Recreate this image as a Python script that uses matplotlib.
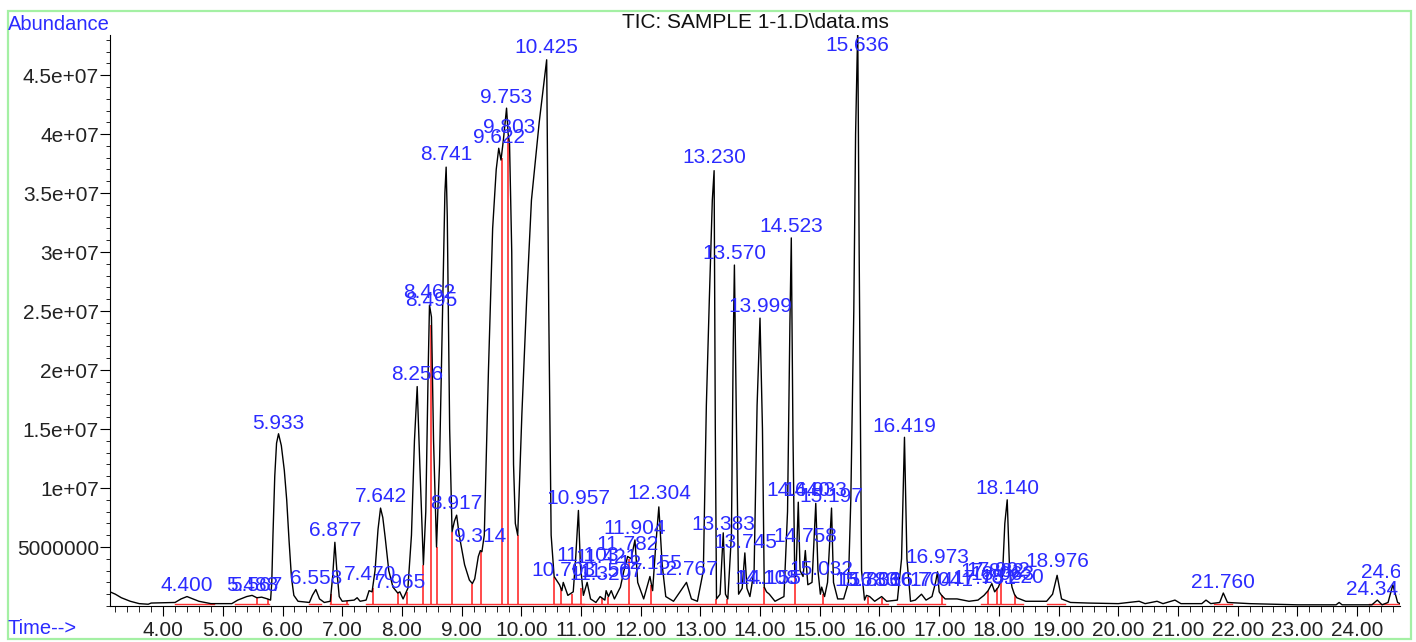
import matplotlib
matplotlib.use("Agg")
import matplotlib.pyplot as plt
from matplotlib.ticker import MultipleLocator, FormatStrFormatter, FixedLocator, FixedFormatter
from matplotlib.patches import Rectangle

plt.rcParams['font.family'] = ['Liberation Sans', 'DejaVu Sans']

# TIC trace (time in min, abundance in 1e6)
rt = [3.11, 3.2, 3.3, 3.45, 3.6, 3.75, 3.8, 4.2, 4.3, 4.4, 4.5, 4.6, 4.8,
      5.15, 5.25, 5.4, 5.49, 5.57, 5.65, 5.75, 5.80, 5.82, 5.84, 5.87, 5.90, 5.933,
      5.98, 6.03, 6.07, 6.11, 6.15, 6.19, 6.26, 6.45, 6.50, 6.558, 6.62, 6.70, 6.80,
      6.84, 6.877, 6.91, 6.95, 7.0, 7.2, 7.25, 7.3, 7.40, 7.45, 7.50, 7.55,
      7.60, 7.642, 7.68, 7.72, 7.78, 7.85, 7.93, 7.965, 8.02, 8.10, 8.16, 8.21,
      8.256, 8.30, 8.36, 8.40, 8.44, 8.462, 8.495, 8.53, 8.58, 8.63, 8.68, 8.72,
      8.741, 8.76, 8.80, 8.84, 8.88, 8.917, 8.96, 9.05, 9.13, 9.18, 9.22, 9.28,
      9.314, 9.34, 9.38, 9.45, 9.52, 9.58, 9.622, 9.66, 9.70, 9.753, 9.78,
      9.803, 9.84, 9.87, 9.90, 9.94, 10.01, 10.09, 10.17, 10.30, 10.37, 10.425,
      10.46, 10.50, 10.55, 10.64, 10.68, 10.703, 10.78, 10.87, 10.91, 10.957,
      10.99, 11.04, 11.103, 11.16, 11.25, 11.32, 11.40, 11.421, 11.46, 11.507,
      11.56, 11.66, 11.72, 11.782, 11.84, 11.904, 11.95, 12.05, 12.155, 12.20,
      12.25, 12.304, 12.36, 12.42, 12.55, 12.70, 12.767, 12.85, 12.95, 13.05,
      13.10, 13.15, 13.20, 13.230, 13.25, 13.27, 13.33, 13.383, 13.42, 13.46,
      13.52, 13.55, 13.570, 13.60, 13.64, 13.70, 13.745, 13.78, 13.83, 13.90,
      13.95, 13.999, 14.04, 14.07, 14.108, 14.155, 14.25, 14.40, 14.46, 14.50,
      14.523, 14.55, 14.58, 14.60, 14.640, 14.67, 14.72, 14.758, 14.80, 14.87,
      14.933, 14.97, 15.01, 15.032, 15.08, 15.13, 15.197, 15.23, 15.30, 15.40,
      15.48, 15.52, 15.57, 15.60, 15.636, 15.66, 15.70, 15.75, 15.783, 15.836,
      15.92, 16.036, 16.12, 16.30, 16.37, 16.419, 16.46, 16.52, 16.60, 16.704,
      16.78, 16.88, 16.94, 16.973, 17.00, 17.041, 17.10, 17.3, 17.5, 17.65,
      17.751, 17.82, 17.882, 17.93, 17.992, 18.06, 18.10, 18.140, 18.18, 18.22,
      18.26, 18.30, 18.45, 18.80, 18.90, 18.976, 19.05, 19.2, 19.5, 20.0, 20.35,
      20.45, 20.65, 20.75, 20.95, 21.05, 21.40, 21.47, 21.55, 21.70, 21.760,
      21.83, 22.2, 23.0, 23.65, 23.70, 23.75, 24.25, 24.34, 24.42, 24.52, 24.60,
      24.68, 24.72]
abund = [1.2, 1.0, 0.7, 0.4, 0.2, 0.15, 0.25, 0.3, 0.6, 0.8, 0.6, 0.4, 0.2,
         0.2, 0.5, 0.8, 0.9, 0.7, 0.75, 0.6, 0.5, 2.0, 6.0, 11.0, 13.8, 14.6,
         13.6, 11.5, 9.0, 5.5, 2.4, 0.9, 0.4, 0.3, 0.9, 1.4, 0.6, 0.3, 0.4,
         2.5, 5.4, 3.0, 0.8, 0.4, 0.5, 0.7, 0.4, 0.5, 1.3, 1.2, 3.0,
         6.5, 8.3, 7.5, 5.8, 3.0, 1.6, 1.1, 1.2, 0.6, 1.5, 6.0, 14.0,
         18.6, 12.0, 3.5, 8.0, 20.0, 25.5, 24.5, 14.0, 5.0, 12.0, 25.0, 35.0,
         37.2, 33.0, 15.0, 6.3, 7.2, 7.7, 6.0, 3.5, 2.2, 1.9, 2.3, 4.2,
         4.7, 4.6, 6.0, 20.0, 32.0, 37.0, 38.8, 37.8, 39.5, 42.2, 40.0,
         39.2, 30.0, 12.0, 7.0, 6.0, 16.3, 26.0, 34.4, 41.0, 44.0, 46.3,
         25.0, 6.0, 2.5, 1.8, 1.3, 2.0, 0.9, 1.2, 4.0, 8.1,
         3.5, 0.9, 2.0, 0.6, 0.3, 0.8, 0.5, 1.3, 0.8, 1.3,
         0.6, 1.6, 3.0, 4.2, 4.0, 5.6, 2.0, 0.6, 2.5, 1.3,
         5.0, 8.4, 3.5, 0.8, 0.4, 1.5, 2.0, 0.6, 0.4, 3.0,
         17.0, 26.0, 34.4, 36.9, 15.0, 0.6, 1.0, 6.2, 1.0, 0.6,
         6.0, 22.0, 28.9, 17.0, 1.0, 1.5, 4.5, 1.5, 0.8, 3.0,
         17.0, 24.4, 15.0, 1.6, 1.2, 1.0, 0.4, 0.8, 8.0, 24.0,
         31.2, 15.0, 2.8, 2.5, 8.8, 3.0, 2.5, 4.7, 1.8, 2.0,
         8.7, 3.0, 1.0, 1.6, 0.8, 2.0, 8.3, 2.0, 0.6, 0.6,
         2.0, 9.0, 25.0, 40.0, 49.0, 30.0, 3.0, 0.5, 0.9, 0.8,
         0.4, 0.8, 0.4, 0.5, 4.0, 14.3, 4.0, 0.4, 0.5, 1.0,
         0.5, 0.8, 2.0, 2.9, 1.2, 0.9, 0.6, 0.6, 0.4, 0.5,
         0.9, 1.3, 1.9, 1.2, 1.6, 2.5, 7.0, 9.0, 3.0, 1.6,
         1.0, 0.7, 0.4, 0.4, 1.0, 2.6, 0.6, 0.3, 0.25, 0.2, 0.4,
         0.2, 0.4, 0.2, 0.5, 0.2, 0.2, 0.5, 0.2, 0.3, 1.1,
         0.3, 0.2, 0.1, 0.1, 0.3, 0.1, 0.1, 0.5, 0.1, 0.3, 1.8,
         0.3, 0.2]

# peak labels: text, retention time, label height (1e6)
peak_txt = ["4.400", "5.488", "5.567", "5.933", "6.558", "6.877", "7.470", "7.642",
            "7.965", "8.256", "8.462", "8.495", "8.741", "8.917", "9.314", "9.622",
            "9.803", "9.753", "10.425", "10.703", "10.957", "11.103", "11.320",
            "11.421", "11.507", "11.782", "11.904", "12.155", "12.304", "12.767",
            "13.230", "13.383", "13.570", "13.745", "13.999", "14.108", "14.155",
            "14.523", "14.640", "14.933", "14.758", "15.032", "15.197", "15.636",
            "15.783", "15.836", "16.036", "16.419", "16.704", "16.973", "17.041",
            "17.751", "17.882", "17.992", "18.063", "18.220", "18.140", "18.976",
            "21.760", "24.341", "24.600"]
peak_rt = [4.400, 5.488, 5.567, 5.933, 6.558, 6.877, 7.470, 7.642,
           7.965, 8.256, 8.462, 8.495, 8.741, 8.917, 9.314, 9.622,
           9.803, 9.753, 10.425, 10.703, 10.957, 11.103, 11.320,
           11.421, 11.507, 11.782, 11.904, 12.155, 12.304, 12.767,
           13.230, 13.383, 13.570, 13.745, 13.999, 14.108, 14.155,
           14.523, 14.640, 14.933, 14.758, 15.032, 15.197, 15.636,
           15.783, 15.836, 16.036, 16.419, 16.704, 16.973, 17.041,
           17.751, 17.882, 17.992, 18.063, 18.220, 18.140, 18.976,
           21.760, 24.341, 24.600]
label_y = [1.78, 1.78, 1.78, 15.5, 2.37, 6.44, 2.63, 9.24,
           1.95, 19.6, 26.6, 25.9, 38.3, 8.73, 5.85, 39.7,
           40.6, 43.1, 47.3, 3.05, 9.15, 4.3, 2.63,
           4.07, 2.9, 5.2, 6.6, 3.6, 9.5, 3.1,
           38.0, 6.95, 29.9, 5.4, 25.4, 2.37, 2.37,
           32.2, 9.8, 9.8, 5.85, 3.1, 9.24, 47.5,
           2.2, 2.2, 2.2, 15.25, 2.2, 4.07, 2.2,
           2.37, 2.9, 3.05, 2.63, 2.45, 10.0, 3.73,
           2.03, 1.36, 2.8]

# integration marks (red)
red_t = [5.57, 5.75, 6.82, 7.08, 7.52, 7.93, 8.08, 8.36, 8.48, 8.58, 8.84, 9.18,
         9.33, 9.68, 9.77, 9.94, 10.55, 10.66, 10.85, 11.00, 11.35, 11.46, 11.80,
         12.18, 13.27, 13.45, 14.07, 14.59, 15.06, 15.80, 16.05, 17.05, 17.82,
         17.97, 18.03, 18.27]
red_top = [0.75, 0.6, 1.0, 0.4, 1.5, 1.1, 1.2, 3.5, 23.8, 5.0, 6.3, 1.9,
           4.6, 38.0, 39.8, 6.0, 2.5, 1.5, 1.0, 1.5, 0.7, 0.8, 4.0,
           1.8, 0.6, 0.6, 1.6, 2.6, 1.0, 0.8, 0.7, 0.9, 1.3,
           1.5, 2.0, 0.9]
base_start = [4.20, 5.20, 6.45, 6.80, 7.40, 10.55, 16.30, 17.70, 18.80, 21.60, 24.20]
base_end = [4.85, 5.78, 6.65, 7.10, 16.15, 11.05, 17.10, 18.40, 19.10, 21.90, 24.70]

ytick_vals = [5, 10, 15, 20, 25, 30, 35, 40, 45]
ytick_txt = ["5000000", "1e+07", "1.5e+07", "2e+07", "2.5e+07", "3e+07",
             "3.5e+07", "4e+07", "4.5e+07"]

blue = '#2b2bff'
fs = 15
fig = plt.figure(figsize=(14.16, 6.42), dpi=100)
ax = fig.add_axes([110 / 1416, 36 / 642, 1290 / 1416, 571 / 642])

# red integration baseline + boundaries
for s, e in zip(base_start, base_end):
    ax.plot([s, e], [0.15, 0.15], color='#ff3030', lw=1.0, zorder=1)
ax.vlines(red_t, 0.15, red_top, color='#ff1a1a', lw=1.1, zorder=1)

ax.plot(rt, abund, color='black', lw=1.0, zorder=2)

for txt, x, y in zip(peak_txt, peak_rt, label_y):
    ax.text(x, y, txt, color=blue, fontsize=fs, ha='center', va='center',
            clip_on=True, zorder=3)

ax.set_xlim(3.11, 24.72)
ax.set_ylim(0, 48.4)
for s in ['top', 'right']:
    ax.spines[s].set_visible(False)
ax.xaxis.set_major_locator(MultipleLocator(1))
ax.xaxis.set_minor_locator(MultipleLocator(0.2))
ax.xaxis.set_major_formatter(FormatStrFormatter('%.2f'))
ax.yaxis.set_major_locator(FixedLocator(ytick_vals))
ax.yaxis.set_major_formatter(FixedFormatter(ytick_txt))
ax.yaxis.set_minor_locator(MultipleLocator(1))
ax.tick_params(axis='both', which='major', direction='out', length=7,
               labelsize=fs, colors='black', labelcolor='#222222')
ax.tick_params(axis='both', which='minor', direction='out', length=4)
ax.tick_params(axis='y', which='major', pad=1)
ax.tick_params(axis='y', which='minor', length=3)

fig.text(8 / 1416, 1 - 24 / 642, "Abundance", color=blue, fontsize=14.5,
         ha='left', va='center')
fig.text(8 / 1416, 1 - 628 / 642, "Time-->", color=blue, fontsize=14.5,
         ha='left', va='center')
fig.text(755 / 1416, 1 - 23 / 642, "TIC: SAMPLE 1-1.D\\data.ms", color='#111111',
         fontsize=fs, ha='center', va='center')

# light green frame around the whole picture
fig.patches.append(Rectangle((8 / 1416, 3 / 642), 1403 / 1416, 628 / 642,
                             transform=fig.transFigure, fill=False,
                             edgecolor='#a4f0a4', lw=1.6))

fig.savefig("out.png", dpi=100)
